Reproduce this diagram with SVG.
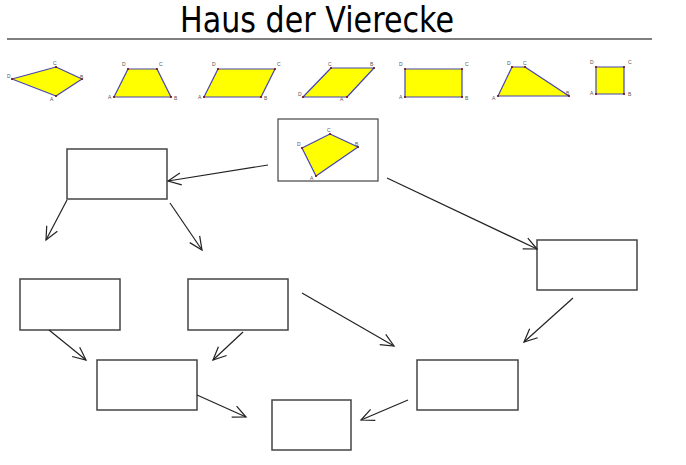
<svg xmlns="http://www.w3.org/2000/svg" width="686" height="465" viewBox="0 0 686 465">
<defs>
<style>
.box{fill:#fff;stroke:#444;stroke-width:1.5}
.conn{fill:none;stroke:#222;stroke-width:1.2;marker-end:url(#arr)}
.q{fill:#ffff00;stroke:#4646b4;stroke-width:1.2;stroke-linejoin:round}
.pt{fill:#7a1010}
.lbl{font-family:"Liberation Sans",Arial,sans-serif;font-size:5px;fill:#555}
.title{font-family:"DejaVu Sans","Liberation Sans",sans-serif;font-size:35px;fill:#000}
</style>
<marker id="arr" viewBox="-14 -7 16 14" refX="0" refY="0" markerWidth="16" markerHeight="14" markerUnits="userSpaceOnUse" orient="auto">
<path d="M-13,-6 L0,0 L-13,6" fill="none" stroke="#222" stroke-width="1.2"/>
</marker>
</defs>
<rect width="686" height="465" fill="#fff"/>
<g id="title">
<text class="title" x="317" y="32" text-anchor="middle" textLength="274" lengthAdjust="spacingAndGlyphs">Haus der Vierecke</text>
<line x1="7" y1="39" x2="652" y2="39" stroke="#555" stroke-width="1.5"/>
</g>
<g id="shape-kite">
<polygon class="q" points="12,79 56,67 82,79 56,96"/>
<g class="pt"><circle cx="12" cy="79" r="1.1"/><circle cx="56" cy="67" r="1.1"/><circle cx="82" cy="79" r="1.1"/><circle cx="56" cy="96" r="1.1"/></g>
<text class="lbl" x="7" y="78">D</text><text class="lbl" x="53" y="65">C</text><text class="lbl" x="80" y="79">B</text><text class="lbl" x="50" y="101">A</text>
</g>
<g id="shape-trapezoid">
<polygon class="q" points="114,97 171,97 157,69 128,69"/>
<g class="pt"><circle cx="114" cy="97" r="1.1"/><circle cx="171" cy="97" r="1.1"/><circle cx="157" cy="69" r="1.1"/><circle cx="128" cy="69" r="1.1"/></g>
<text class="lbl" x="108" y="99">A</text><text class="lbl" x="174" y="100">B</text><text class="lbl" x="159" y="66">C</text><text class="lbl" x="122" y="66">D</text>
</g>
<g id="shape-parallelogram">
<polygon class="q" points="204,97 261,97 275,69 218,69"/>
<g class="pt"><circle cx="204" cy="97" r="1.1"/><circle cx="261" cy="97" r="1.1"/><circle cx="275" cy="69" r="1.1"/><circle cx="218" cy="69" r="1.1"/></g>
<text class="lbl" x="198" y="99">A</text><text class="lbl" x="264" y="100">B</text><text class="lbl" x="277" y="66">C</text><text class="lbl" x="212" y="66">D</text>
</g>
<g id="shape-rhombus">
<polygon class="q" points="303,97 347,97 374,68 331,68"/>
<g class="pt"><circle cx="303" cy="97" r="1.1"/><circle cx="347" cy="97" r="1.1"/><circle cx="374" cy="68" r="1.1"/><circle cx="331" cy="68" r="1.1"/></g>
<text class="lbl" x="340" y="101">A</text><text class="lbl" x="370" y="66">B</text><text class="lbl" x="328" y="66">C</text><text class="lbl" x="298" y="96">D</text>
</g>
<g id="shape-rectangle">
<polygon class="q" points="405,97 462,97 462,69 405,69"/>
<g class="pt"><circle cx="405" cy="97" r="1.1"/><circle cx="462" cy="97" r="1.1"/><circle cx="462" cy="69" r="1.1"/><circle cx="405" cy="69" r="1.1"/></g>
<text class="lbl" x="399" y="99">A</text><text class="lbl" x="465" y="100">B</text><text class="lbl" x="465" y="66">C</text><text class="lbl" x="399" y="66">D</text>
</g>
<g id="shape-trapezoid2">
<polygon class="q" points="498,96 569,96 525,67 512,67"/>
<g class="pt"><circle cx="498" cy="96" r="1.1"/><circle cx="569" cy="96" r="1.1"/><circle cx="525" cy="67" r="1.1"/><circle cx="512" cy="67" r="1.1"/></g>
<text class="lbl" x="492" y="100">A</text><text class="lbl" x="566" y="95">B</text><text class="lbl" x="523" y="65">C</text><text class="lbl" x="507" y="65">D</text>
</g>
<g id="shape-square">
<polygon class="q" points="596,94 624,94 624,67 596,67"/>
<g class="pt"><circle cx="596" cy="94" r="1.1"/><circle cx="624" cy="94" r="1.1"/><circle cx="624" cy="67" r="1.1"/><circle cx="596" cy="67" r="1.1"/></g>
<text class="lbl" x="590" y="95">A</text><text class="lbl" x="628" y="96">B</text><text class="lbl" x="628" y="64">C</text><text class="lbl" x="590" y="64">D</text>
</g>
<g id="node-top">
<rect class="box" x="278" y="119" width="100" height="62" style="stroke-width:1.2"/>
<polygon class="q" points="302,148 330,134 358,147 316,176"/>
<g class="pt"><circle cx="302" cy="148" r="1.1"/><circle cx="330" cy="134" r="1.1"/><circle cx="358" cy="147" r="1.1"/><circle cx="316" cy="176" r="1.1"/></g>
<text class="lbl" x="297" y="146">D</text><text class="lbl" x="327" y="132">C</text><text class="lbl" x="355" y="146">B</text><text class="lbl" x="310" y="180">A</text>
</g>
<g id="node-1"><rect class="box" x="67" y="149" width="100" height="50"/></g>
<g id="node-2"><rect class="box" x="537" y="240" width="100" height="50"/></g>
<g id="node-3"><rect class="box" x="20" y="279" width="100" height="51"/></g>
<g id="node-4"><rect class="box" x="188" y="279" width="100" height="51"/></g>
<g id="node-5"><rect class="box" x="97" y="360" width="100" height="50"/></g>
<g id="node-6"><rect class="box" x="417" y="360" width="101" height="50"/></g>
<g id="node-7"><rect class="box" x="272" y="400" width="79" height="50"/></g>
<g id="connectors">
<line class="conn" x1="268" y1="165" x2="168" y2="181"/>
<line class="conn" x1="67" y1="200" x2="46" y2="240"/>
<line class="conn" x1="170" y1="203" x2="202" y2="250"/>
<line class="conn" x1="387" y1="178" x2="537" y2="249"/>
<line class="conn" x1="573" y1="298" x2="524" y2="342"/>
<line class="conn" x1="408" y1="400" x2="361" y2="420"/>
<line class="conn" x1="302" y1="293" x2="394" y2="346"/>
<line class="conn" x1="49" y1="330" x2="86" y2="360"/>
<line class="conn" x1="243" y1="332" x2="213" y2="360"/>
<line class="conn" x1="197" y1="395" x2="246" y2="417"/>
</g>
</svg>
